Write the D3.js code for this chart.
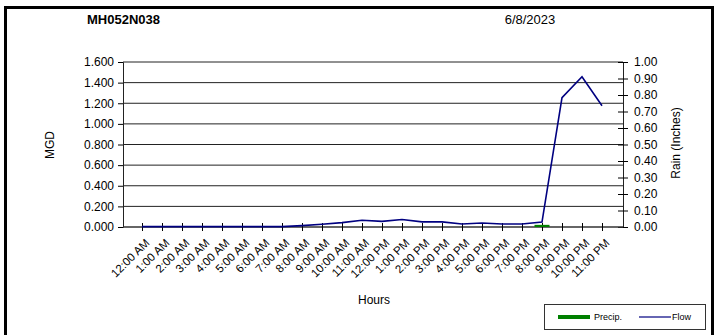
<!DOCTYPE html>
<html><head><meta charset="utf-8">
<script src="https://cdn.jsdelivr.net/npm/d3@7"></script>
<style>body{margin:0;background:#fff}text{font-family:Arial,"Liberation Sans",sans-serif}</style>
</head><body><svg id="c" width="719" height="335"></svg>
<script>
const hours = ["12:00 AM","1:00 AM","2:00 AM","3:00 AM","4:00 AM","5:00 AM","6:00 AM","7:00 AM","8:00 AM","9:00 AM","10:00 AM","11:00 AM","12:00 PM","1:00 PM","2:00 PM","3:00 PM","4:00 PM","5:00 PM","6:00 PM","7:00 PM","8:00 PM","9:00 PM","10:00 PM","11:00 PM"];
const flow = [0.004,0.004,0.004,0.004,0.004,0.004,0.004,0.004,0.013,0.026,0.042,0.065,0.055,0.072,0.050,0.050,0.029,0.039,0.029,0.029,0.048,1.254,1.457,1.176];
const precip = [0,0,0,0,0,0,0,0,0,0,0,0,0,0,0,0,0,0,0,0,0.01,0,0,0];
const leftTicks = [0,0.2,0.4,0.6,0.8,1.0,1.2,1.4,1.6];
const rightTicks = [0,0.1,0.2,0.3,0.4,0.5,0.6,0.7,0.8,0.9,1.0];
const title = "MH052N038", dateLabel = "6/8/2023";

const svg = d3.select("#c");
const L = 123, R = 623, T = 62, B = 227;
const x = d3.scalePoint().domain(hours).range([142, 602]);
const yL = d3.scaleLinear().domain([0, 1.6]).range([B, T]);
const yR = d3.scaleLinear().domain([0, 1.0]).range([B, T]);

// outer frame
svg.append("rect").attr("x",5.5).attr("y",7.5).attr("width",707).attr("height",340)
  .attr("fill","none").attr("stroke","#000").attr("stroke-width",3);

// gridlines
svg.append("g").selectAll("line").data(leftTicks.slice(1)).join("line")
  .attr("x1",L).attr("x2",R).attr("y1",d=>yL(d)).attr("y2",d=>yL(d))
  .attr("stroke","#222").attr("stroke-width",1);

// left axis
const gl = svg.append("g").attr("transform",`translate(${L},0)`)
  .call(d3.axisLeft(yL).tickValues(leftTicks).tickFormat(d3.format(".3f")).tickSize(5).tickPadding(4));
gl.select(".domain").attr("stroke","#222");
gl.selectAll("text").attr("font-size",12).attr("fill","#000");

// right axis
const gr = svg.append("g").attr("transform",`translate(${R},0)`)
  .call(d3.axisRight(yR).tickValues(rightTicks).tickFormat(d3.format(".2f")).tickSize(5).tickPadding(6));
gr.select(".domain").attr("stroke","#222");
gr.selectAll(".tick line").attr("x1",-5).attr("x2",5);
gr.selectAll("text").attr("font-size",12).attr("fill","#000");

// bottom axis
const gb = svg.append("g").attr("transform",`translate(0,${B})`)
  .call(d3.axisBottom(x).tickSize(4).tickPadding(4));
gb.select(".domain").attr("d",`M${L},0H${R}`).attr("stroke","#333").attr("stroke-width",1.5);
gb.selectAll(".tick line").attr("y1",-4).attr("y2",4);
gb.selectAll("text").attr("font-size",11.5).attr("fill","#000")
  .attr("text-anchor","end").attr("dy",0).attr("dx",0)
  .attr("transform","translate(2,11) rotate(-45)");

// precip bars
svg.append("g").selectAll("rect").data(precip.map((v,i)=>({h:hours[i],v})).filter(d=>d.v>0)).join("rect")
  .attr("x",d=>x(d.h)-7.5).attr("width",15).attr("y",d=>yR(d.v)-0.5).attr("height",d=>B-yR(d.v)+0.5)
  .attr("fill","#008000");

// flow line
svg.append("path").datum(flow).attr("fill","none").attr("stroke","#000080").attr("stroke-width",1.6)
  .attr("d", d3.line().x((d,i)=>x(hours[i])).y(d=>yL(d)));

// titles
svg.append("text").attr("x",87).attr("y",24).attr("font-size",13).attr("font-weight","bold").text(title);
svg.append("text").attr("x",530).attr("y",24).attr("font-size",13).attr("text-anchor","middle").text(dateLabel);
svg.append("text").attr("transform","translate(54,145) rotate(-90)").attr("text-anchor","middle").attr("font-size",12).text("MGD");
svg.append("text").attr("transform","translate(680,143) rotate(-90)").attr("text-anchor","middle").attr("font-size",12).text("Rain  (Inches)");
svg.append("text").attr("x",374).attr("y",304).attr("text-anchor","middle").attr("font-size",12).text("Hours");

// legend
const lg = svg.append("g");
lg.append("rect").attr("x",544.5).attr("y",304.5).attr("width",161).attr("height",25).attr("fill","#fff").attr("stroke","#333");
lg.append("rect").attr("x",558).attr("y",315).attr("width",32).attr("height",4).attr("fill","#008000");
lg.append("text").attr("x",594).attr("y",320).attr("font-size",9).text("Precip.");
lg.append("line").attr("x1",639).attr("x2",671).attr("y1",317).attr("y2",317).attr("stroke","#000080").attr("stroke-width",1.2);
lg.append("text").attr("x",672).attr("y",320).attr("font-size",9).text("Flow");
</script></body></html>
